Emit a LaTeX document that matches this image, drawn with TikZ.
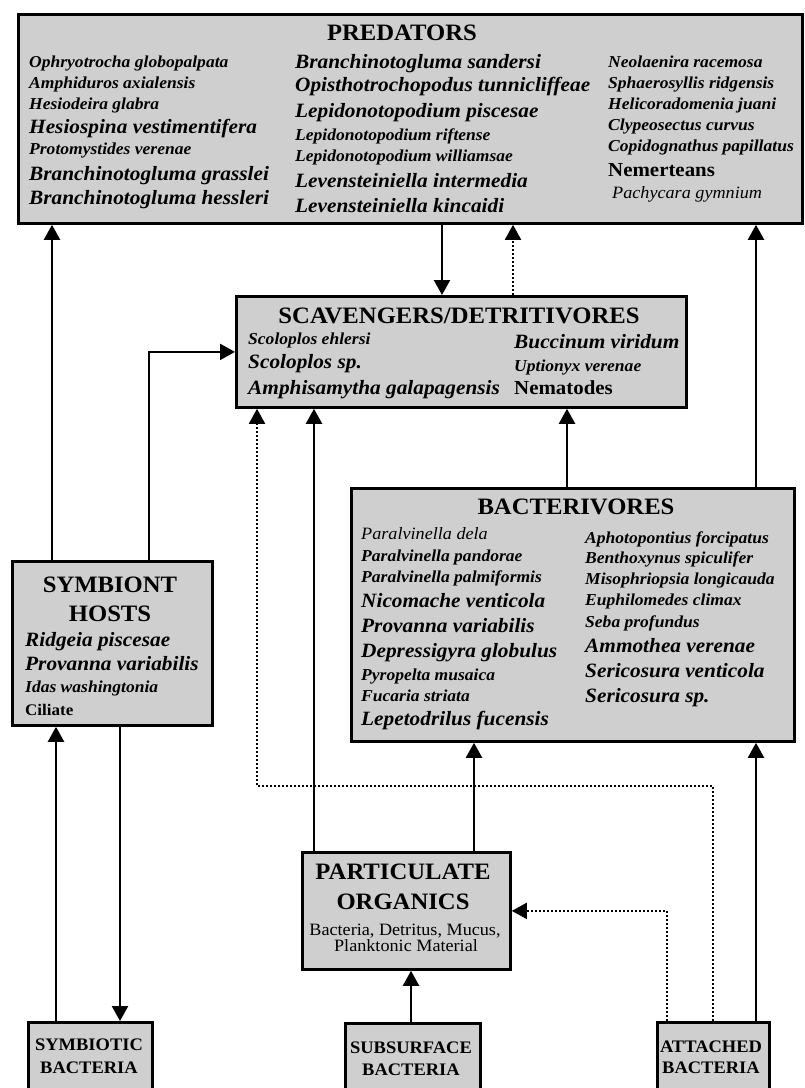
\documentclass[tikz,border=0pt]{standalone}
\usepackage{fontspec}
\setmainfont{Liberation Serif}[FakeStretch=1.05]
\usetikzlibrary{arrows.meta}

\definecolor{boxgray}{RGB}{207,207,207}

\tikzset{
  box/.style={draw, fill=boxgray, line width=2.8pt, inner sep=0pt, anchor=north west},
  head/.style={font=\fontsize{23.5}{26}\selectfont\bfseries, inner sep=0pt, anchor=base},
  foot/.style={font=\fontsize{17.6}{19}\selectfont\bfseries, inner sep=0pt, anchor=base},
  note/.style={font=\fontsize{17.3}{18}\selectfont, inner sep=0pt, anchor=base},
  sp/.style={font=\fontsize{16.7}{18}\selectfont\bfseries\itshape, inner sep=0pt, anchor=base west},
  spbig/.style={font=\fontsize{20.3}{22}\selectfont\bfseries\itshape, inner sep=0pt, anchor=base west},
  spthin/.style={font=\fontsize{17.3}{18}\selectfont\itshape, inner sep=0pt, anchor=base west},
  taxon/.style={font=\fontsize{19.9}{22}\selectfont\bfseries, inner sep=0pt, anchor=base west},
  taxsmall/.style={font=\fontsize{16.2}{18}\selectfont\bfseries, inner sep=0pt, anchor=base west},
  arr/.style={line width=2.3pt, -{Triangle[length=15pt,width=16pt]}},
  dots/.style={line width=2pt, dash pattern=on 2pt off 2pt}
}

\begin{document}
\begin{tikzpicture}[x=1pt,y=-1pt]
  \useasboundingbox (0,0) rectangle (805,1088);
  \clip (0,0) rectangle (805,1088);

  % Boxes
  \node[box, minimum width=784, minimum height=209] (pred)  at (17,13) {};
  \node[box, minimum width=450, minimum height=111] (scav)  at (235,295) {};
  \node[box, minimum width=443, minimum height=253] (bact)  at (350,487) {};
  \node[box, minimum width=200, minimum height=164] (hosts) at (11,560) {};
  \node[box, minimum width=208, minimum height=117] (part)  at (301,851) {};
  \node[box, minimum width=124, minimum height=90]  (symb)  at (27,1021) {};
  \node[box, minimum width=135, minimum height=90]  (subs)  at (344,1022) {};
  \node[box, minimum width=112, minimum height=90]  (att)   at (656,1021) {};

  % Predators
  \node[head] (predTitle) at (402,40) {PREDATORS};
  \node[sp]    (pr1)  at (29,67)  {Ophryotrocha globopalpata};
  \node[sp]    (pr2)  at (29,88)  {Amphiduros axialensis};
  \node[sp]    (pr3)  at (29,109) {Hesiodeira glabra};
  \node[spbig] (pr4)  at (29,133) {Hesiospina vestimentifera};
  \node[sp]    (pr5)  at (29,154) {Protomystides verenae};
  \node[spbig] (pr6)  at (29,180) {Branchinotogluma grasslei};
  \node[spbig] (pr7)  at (29,204) {Branchinotogluma hessleri};
  \node[spbig] (pr8)  at (295,68)  {Branchinotogluma sandersi};
  \node[spbig] (pr9)  at (295,91)  {Opisthotrochopodus tunnicliffeae};
  \node[spbig] (pr10) at (295,117) {Lepidonotopodium piscesae};
  \node[sp]    (pr11) at (295,140) {Lepidonotopodium riftense};
  \node[sp]    (pr12) at (295,161) {Lepidonotopodium williamsae};
  \node[spbig] (pr13) at (295,187) {Levensteiniella intermedia};
  \node[spbig] (pr14) at (295,212) {Levensteiniella kincaidi};
  \node[sp]    (pr15) at (608,67)  {Neolaenira racemosa};
  \node[sp]    (pr16) at (608,88)  {Sphaerosyllis ridgensis};
  \node[sp]    (pr17) at (608,109) {Helicoradomenia juani};
  \node[sp]    (pr18) at (608,130) {Clypeosectus curvus};
  \node[sp]    (pr19) at (608,151) {Copidognathus papillatus};
  \node[taxon] (pr20) at (608,176) {Nemerteans};
  \node[spthin] (pr21) at (612,198) {Pachycara gymnium};

  % Scavengers / detritivores
  \node[head] (scavTitle) at (459,323) {SCAVENGERS/DETRITIVORES};
  \node[sp]    (sc1) at (248,344) {Scoloplos ehlersi};
  \node[spbig] (sc2) at (248,368) {Scoloplos sp.};
  \node[spbig] (sc3) at (248,394) {Amphisamytha galapagensis};
  \node[spbig] (sc4) at (514,348) {Buccinum viridum};
  \node[sp]    (sc5) at (514,371) {Uptionyx verenae};
  \node[taxon] (sc6) at (514,394) {Nematodes};

  % Bacterivores
  \node[head] (bactTitle) at (576,514) {BACTERIVORES};
  \node[spthin] (ba1) at (361,539) {Paralvinella dela};
  \node[sp]    (ba2)  at (361,561) {Paralvinella pandorae};
  \node[sp]    (ba3)  at (361,582) {Paralvinella palmiformis};
  \node[spbig] (ba4)  at (361,607) {Nicomache venticola};
  \node[spbig] (ba5)  at (361,632) {Provanna variabilis};
  \node[spbig] (ba6)  at (361,657) {Depressigyra globulus};
  \node[sp]    (ba7)  at (361,680) {Pyropelta musaica};
  \node[sp]    (ba8)  at (361,701) {Fucaria striata};
  \node[spbig] (ba9)  at (361,725) {Lepetodrilus fucensis};
  \node[sp]    (ba10) at (585,543) {Aphotopontius forcipatus};
  \node[sp]    (ba11) at (585,563) {Benthoxynus spiculifer};
  \node[sp]    (ba12) at (585,584) {Misophriopsia longicauda};
  \node[sp]    (ba13) at (585,605) {Euphilomedes climax};
  \node[sp]    (ba14) at (585,627) {Seba profundus};
  \node[spbig] (ba15) at (585,652) {Ammothea verenae};
  \node[spbig] (ba16) at (585,677) {Sericosura venticola};
  \node[spbig] (ba17) at (585,702) {Sericosura sp.};

  % Symbiont hosts
  \node[head] (hostsTitleA) at (110,592) {SYMBIONT};
  \node[head] (hostsTitleB) at (110,621) {HOSTS};
  \node[spbig]    (ho1) at (25,646) {Ridgeia piscesae};
  \node[spbig]    (ho2) at (25,670) {Provanna variabilis};
  \node[sp]       (ho3) at (25,692) {Idas washingtonia};
  \node[taxsmall] (ho4) at (25,715) {Ciliate};

  % Particulate organics
  \node[head] (partTitleA) at (403,879) {PARTICULATE};
  \node[head] (partTitleB) at (403,909) {ORGANICS};
  \node[note] (partNoteA) at (405,935) {Bacteria, Detritus, Mucus,};
  \node[note] (partNoteB) at (406,951) {Planktonic Material};

  % Bacteria sources
  \node[foot] (symbA) at (89,1050)  {SYMBIOTIC};
  \node[foot] (symbB) at (89,1073)  {BACTERIA};
  \node[foot] (subsA) at (411,1053) {SUBSURFACE};
  \node[foot] (subsB) at (411,1075) {BACTERIA};
  \node[foot] (attA)  at (711,1052) {ATTACHED};
  \node[foot] (attB)  at (711,1073) {BACTERIA};

  % Guide lines for the vertical connectors
  \coordinate (hpX)  at (52,0);
  \coordinate (hsX)  at (149,0);
  \coordinate (psX)  at (442,0);
  \coordinate (spX)  at (513,0);
  \coordinate (bsX)  at (567,0);
  \coordinate (rX)   at (756,0);
  \coordinate (pasX) at (314,0);
  \coordinate (pabX) at (474,0);
  \coordinate (asX)  at (713,0);
  \coordinate (asY)  at (0,786);
  \coordinate (asEnd) at (257,0);
  \coordinate (apX)  at (667,0);
  \coordinate (spaX) at (411,0);
  \coordinate (shX)  at (56,0);
  \coordinate (hsyX) at (120,0);

  % Connectors
  \draw[arr] (hosts.north -| hpX) -- (pred.south -| hpX);
  \draw[arr] (hosts.north -| hsX) |- (scav.west);
  \draw[arr] (pred.south -| psX) -- (scav.north -| psX);
  \draw[arr,dots] (scav.north -| spX) -- (pred.south -| spX);
  \draw[arr] (bact.north -| rX) -- (pred.south -| rX);
  \draw[arr] (bact.north -| bsX) -- (scav.south -| bsX);
  \draw[arr] (part.north -| pasX) -- (scav.south -| pasX);
  \draw[arr] (part.north -| pabX) -- (bact.south -| pabX);
  \draw[arr,dots] (att.north -| asX) -- (asX |- asY) -| (scav.south -| asEnd);
  \draw[arr,dots] (att.north -| apX) |- (part.east);
  \draw[arr] (att.north -| rX) -- (bact.south -| rX);
  \draw[arr] (subs.north -| spaX) -- (part.south -| spaX);
  \draw[arr] (symb.north -| shX) -- (hosts.south -| shX);
  \draw[arr] (hosts.south -| hsyX) -- (symb.north -| hsyX);

\end{tikzpicture}
\end{document}
